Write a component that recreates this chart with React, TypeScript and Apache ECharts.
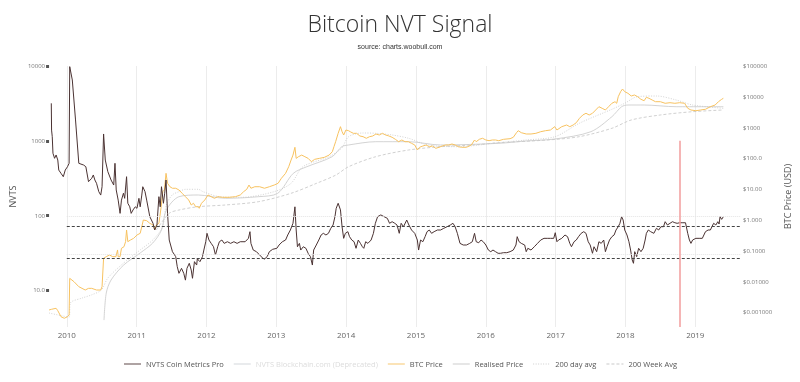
import React, { useEffect, useRef } from 'react';
import * as echarts from 'echarts';

// ---------- data (decimal year, value) ----------
const YEARS = [2010, 2011, 2012, 2013, 2014, 2015, 2016, 2017, 2018, 2019];
const NVTS_TICKS = [10, 100, 1000, 10000];
const NVTS_TICK_LABELS = ['10.0', '100', '1000', '10000'];
const PRICE_TICKS = [0.001, 0.01, 0.1, 1, 10, 100, 1000, 10000, 100000];
const PRICE_TICK_LABELS = ['$0.001000', '$0.01000', '$0.1000', '$1.000', '$10.00', '$100.0', '$1000', '$10000', '$100000'];

const NVTS_BANDS = [73, 27];
const NVTS_FAINT_LINES = [96.6, 30.4];
const MARKER_DATE = 2018.777;
const MARKER_TOP = 1000;

const NVTS_COIN_METRICS: [number, number][] = [
  [2009.778, 3170], [2009.782, 1390], [2009.792, 1134], [2009.802, 681], [2009.825, 583], [2009.847, 646], [2009.871, 553], [2009.885, 406], [2009.917, 367], [2009.95, 331], [2009.978, 406],
  [2010.01, 450], [2010.033, 500], [2010.042, 9800], [2010.079, 6500], [2010.125, 1900], [2010.172, 500], [2010.241, 474], [2010.273, 450], [2010.311, 284], [2010.357, 315], [2010.38, 349], [2010.402, 299], [2010.426, 270], [2010.458, 209], [2010.486, 188], [2010.505, 243], [2010.527, 1233], [2010.551, 553], [2010.588, 386], [2010.634, 299], [2010.672, 256], [2010.69, 500], [2010.708, 220], [2010.736, 161], [2010.763, 107], [2010.783, 161], [2010.811, 199], [2010.829, 170], [2010.856, 331], [2010.874, 146], [2010.902, 131], [2010.922, 107], [2010.949, 119], [2010.981, 131],
  [2011.005, 125], [2011.033, 170], [2011.051, 131], [2011.074, 188], [2011.088, 243], [2011.12, 209], [2011.144, 161], [2011.189, 96.6], [2011.235, 78.8], [2011.259, 64.1], [2011.291, 74.8], [2011.319, 179], [2011.338, 131], [2011.356, 243], [2011.384, 146], [2011.402, 199], [2011.421, 299], [2011.443, 107], [2011.467, 47.1], [2011.513, 32.9], [2011.56, 28.2], [2011.582, 20.7], [2011.606, 16.9], [2011.643, 19.7], [2011.675, 16.9], [2011.699, 13.7], [2011.721, 19.7], [2011.754, 23.0], [2011.782, 18.7], [2011.8, 14.5], [2011.828, 24.2], [2011.86, 21.8], [2011.87, 26.8], [2011.883, 25.5], [2011.907, 24.2], [2011.943, 28.2], [2011.963, 34.6], [2011.99, 44.7],
  [2012.008, 57.9], [2012.036, 47.1], [2012.068, 42.5], [2012.101, 38.3], [2012.129, 29.7], [2012.161, 38.3], [2012.185, 44.7], [2012.221, 47.1], [2012.254, 42.5], [2012.3, 44.7], [2012.346, 42.5], [2012.393, 44.7], [2012.439, 42.5], [2012.484, 44.7], [2012.554, 44.7], [2012.601, 49.6], [2012.623, 60.9], [2012.637, 42.5], [2012.67, 34.6], [2012.716, 32.9], [2012.762, 29.7], [2012.809, 26.8], [2012.831, 26.2], [2012.869, 28.2], [2012.901, 32.9], [2012.948, 35.4],
  [2013.008, 36.5], [2013.04, 40.4], [2013.087, 44.7], [2013.133, 47.1], [2013.164, 55.0], [2013.202, 64.1], [2013.239, 78.8], [2013.267, 131], [2013.285, 64.1], [2013.303, 38.3], [2013.331, 42.5], [2013.35, 34.6], [2013.387, 38.3], [2013.424, 36.5], [2013.456, 31.3], [2013.489, 28.2], [2013.517, 21.8], [2013.535, 34.6], [2013.573, 40.4], [2013.609, 47.1], [2013.642, 55.0], [2013.674, 57.9], [2013.711, 55.0], [2013.747, 57.9], [2013.781, 67.6], [2013.813, 74.8], [2013.84, 96.6], [2013.858, 125], [2013.886, 146], [2013.919, 119], [2013.942, 71.0], [2013.965, 49.6], [2013.989, 57.9],
  [2014.025, 60.9], [2014.049, 52.2], [2014.081, 47.1], [2014.114, 44.7], [2014.142, 36.5], [2014.174, 47.1], [2014.205, 42.5], [2014.233, 38.3], [2014.253, 36.5], [2014.28, 44.7], [2014.312, 42.5], [2014.358, 47.1], [2014.391, 57.9], [2014.419, 78.8], [2014.451, 96.6], [2014.497, 102], [2014.544, 96.6], [2014.59, 91.9], [2014.622, 78.8], [2014.659, 82.8], [2014.697, 78.8], [2014.729, 74.8], [2014.761, 57.9], [2014.788, 78.8], [2014.822, 71.0], [2014.868, 87.2], [2014.899, 74.8], [2014.937, 64.1], [2014.983, 57.9],
  [2015.02, 47.1], [2015.038, 34.6], [2015.066, 47.1], [2015.099, 44.7], [2015.131, 52.2], [2015.159, 60.9], [2015.191, 64.1], [2015.224, 57.9], [2015.26, 60.9], [2015.307, 64.1], [2015.353, 64.1], [2015.399, 67.6], [2015.446, 71.0], [2015.492, 74.8], [2015.53, 78.8], [2015.561, 71.0], [2015.593, 57.9], [2015.631, 42.5], [2015.677, 40.4], [2015.724, 40.4], [2015.77, 42.5], [2015.807, 44.7], [2015.839, 57.9], [2015.863, 44.7], [2015.899, 43.3], [2015.932, 47.1], [2015.964, 44.7],
  [2016.001, 40.4], [2016.037, 34.6], [2016.071, 32.9], [2016.103, 34.6], [2016.14, 32.9], [2016.176, 31.3], [2016.21, 31.3], [2016.255, 31.9], [2016.301, 31.9], [2016.348, 32.9], [2016.394, 34.6], [2016.432, 40.4], [2016.45, 52.2], [2016.477, 44.7], [2016.509, 42.5], [2016.557, 40.4], [2016.579, 32.9], [2016.602, 36.5], [2016.648, 34.6], [2016.695, 38.3], [2016.741, 42.5], [2016.787, 47.1], [2016.834, 49.6], [2016.88, 49.6], [2016.926, 49.6], [2016.973, 49.6], [2016.995, 59.0],
  [2017.019, 44.7], [2017.042, 47.1], [2017.088, 49.6], [2017.134, 55.0], [2017.171, 52.2], [2017.203, 42.5], [2017.227, 38.3], [2017.264, 44.7], [2017.296, 47.1], [2017.328, 52.2], [2017.366, 57.9], [2017.403, 60.9], [2017.435, 57.9], [2017.467, 44.7], [2017.495, 40.4], [2017.528, 31.3], [2017.55, 38.3], [2017.588, 32.9], [2017.62, 44.7], [2017.653, 42.5], [2017.689, 47.1], [2017.713, 32.9], [2017.736, 38.3], [2017.772, 47.1], [2017.806, 52.2], [2017.838, 55.0], [2017.865, 64.1], [2017.897, 71.0], [2017.921, 78.8], [2017.945, 96.6], [2017.967, 87.2], [2017.99, 64.1],
  [2018.022, 55.0], [2018.05, 44.7], [2018.074, 34.6], [2018.097, 25.5], [2018.115, 23.0], [2018.133, 32.9], [2018.161, 28.2], [2018.189, 36.5], [2018.222, 32.9], [2018.254, 36.5], [2018.282, 47.1], [2018.3, 57.9], [2018.328, 64.1], [2018.361, 60.9], [2018.407, 57.9], [2018.444, 67.6], [2018.476, 64.1], [2018.508, 71.0], [2018.545, 71.0], [2018.569, 82.8], [2018.601, 74.8], [2018.638, 78.8], [2018.674, 82.8], [2018.708, 80.2], [2018.74, 78.8], [2018.777, 80.2], [2018.823, 80.2], [2018.86, 80.2], [2018.892, 57.9], [2018.916, 47.1], [2018.938, 42.5], [2018.962, 47.1],
  [2019.008, 49.6], [2019.055, 49.6], [2019.101, 49.6], [2019.146, 60.9], [2019.184, 64.1], [2019.216, 64.1], [2019.263, 78.8], [2019.295, 74.8], [2019.323, 82.8], [2019.341, 77.1], [2019.355, 96.6], [2019.378, 89], [2019.402, 96.6],
];

const NVTS_BLOCKCHAIN: [number, number][] = [];

const BTC_PRICE: [number, number][] = [
  [2009.746, 0.00119], [2009.778, 0.00125], [2009.847, 0.00135], [2009.871, 0.00113], [2009.917, 0.00072], [2009.964, 0.00064], [2010.01, 0.00072], [2010.033, 0.00082],
  [2010.042, 0.0127], [2010.103, 0.0099], [2010.172, 0.0068], [2010.264, 0.0053], [2010.311, 0.006], [2010.357, 0.006], [2010.426, 0.0053], [2010.486, 0.0053], [2010.505, 0.0068], [2010.527, 0.0569], [2010.565, 0.0641], [2010.611, 0.0728], [2010.658, 0.0641], [2010.704, 0.0641], [2010.727, 0.106], [2010.736, 0.0641], [2010.763, 0.0641], [2010.783, 0.12], [2010.819, 0.135], [2010.842, 0.197], [2010.856, 0.472], [2010.874, 0.197], [2010.912, 0.223], [2010.958, 0.254],
  [2011.005, 0.324], [2011.051, 0.368], [2011.074, 0.604], [2011.096, 0.995], [2011.144, 0.946], [2011.189, 0.778], [2011.235, 0.686], [2011.259, 0.472], [2011.282, 0.686], [2011.319, 0.778], [2011.352, 2.69], [2011.374, 8.26], [2011.398, 9.4], [2011.421, 32.7], [2011.443, 15.5], [2011.477, 12.0], [2011.513, 10.7], [2011.56, 10.7], [2011.606, 9.4], [2011.652, 7.34], [2011.699, 5.69], [2011.745, 4.45], [2011.782, 3.06], [2011.814, 3.48], [2011.846, 2.69], [2011.883, 2.69], [2011.897, 2.39], [2011.929, 3.48], [2011.976, 4.45],
  [2012.022, 6.46], [2012.068, 5.69], [2012.115, 5.05], [2012.161, 5.69], [2012.23, 5.44], [2012.323, 5.44], [2012.415, 5.69], [2012.484, 6.46], [2012.532, 8.26], [2012.577, 9.89], [2012.609, 13.6], [2012.637, 10.7], [2012.693, 12.0], [2012.762, 12.0], [2012.831, 10.7], [2012.901, 12.0], [2012.97, 13.6],
  [2013.026, 15.5], [2013.073, 22.5], [2013.133, 32.7], [2013.178, 53.6], [2013.212, 88.5], [2013.239, 128], [2013.267, 229], [2013.285, 100], [2013.317, 113], [2013.364, 128], [2013.41, 113], [2013.456, 100], [2013.503, 78], [2013.549, 93], [2013.618, 100], [2013.688, 108], [2013.757, 128], [2013.803, 165], [2013.826, 239], [2013.85, 348], [2013.886, 651], [2013.919, 1069], [2013.942, 735], [2013.965, 574], [2013.997, 834],
  [2014.035, 792], [2014.058, 735], [2014.104, 651], [2014.15, 651], [2014.197, 533], [2014.243, 506], [2014.289, 449], [2014.336, 506], [2014.382, 533], [2014.427, 619], [2014.475, 574], [2014.52, 651], [2014.566, 574], [2014.613, 533], [2014.659, 483], [2014.705, 416], [2014.752, 348], [2014.798, 395], [2014.844, 348], [2014.891, 348], [2014.937, 308], [2014.983, 272],
  [2015.02, 187], [2015.052, 229], [2015.099, 252], [2015.145, 272], [2015.191, 239], [2015.238, 252], [2015.284, 212], [2015.33, 229], [2015.377, 252], [2015.423, 272], [2015.468, 272], [2015.516, 293], [2015.561, 272], [2015.607, 239], [2015.654, 229], [2015.724, 229], [2015.793, 272], [2015.839, 395], [2015.863, 348], [2015.908, 416], [2015.954, 449],
  [2016.001, 395], [2016.047, 375], [2016.093, 395], [2016.14, 395], [2016.186, 375], [2016.255, 416], [2016.348, 436], [2016.394, 483], [2016.44, 682], [2016.464, 792], [2016.509, 682], [2016.579, 619], [2016.648, 619], [2016.717, 651], [2016.787, 735], [2016.856, 792], [2016.926, 834], [2016.987, 1069],
  [2017.019, 834], [2017.088, 1069], [2017.158, 1213], [2017.203, 1069], [2017.251, 1213], [2017.296, 1441], [2017.342, 2000], [2017.389, 2563], [2017.435, 2912], [2017.481, 2563], [2017.528, 2912], [2017.574, 3726], [2017.62, 4764], [2017.667, 4227], [2017.713, 3726], [2017.759, 4764], [2017.806, 6148], [2017.851, 6930], [2017.875, 6148], [2017.897, 10070], [2017.931, 14630], [2017.958, 17900], [2017.99, 14630],
  [2018.036, 12980], [2018.083, 10610], [2018.129, 11430], [2018.175, 10070], [2018.222, 8280], [2018.268, 7460], [2018.3, 9620], [2018.337, 8930], [2018.383, 7870], [2018.43, 6930], [2018.5, 6930], [2018.569, 6148], [2018.638, 6430], [2018.708, 6148], [2018.777, 6430], [2018.847, 6148], [2018.892, 4227], [2018.938, 3726],
  [2019.008, 3530], [2019.077, 3726], [2019.146, 3930], [2019.216, 4764], [2019.285, 5410], [2019.332, 6930], [2019.378, 8280], [2019.402, 8930],
];

const REALISED_PRICE: [number, number][] = [
  [2010.533, 0.00056], [2010.565, 0.0042], [2010.634, 0.0112], [2010.815, 0.0344], [2011.051, 0.0845], [2011.231, 0.178], [2011.356, 0.472], [2011.425, 2.1], [2011.606, 5.69], [2011.883, 6.46],
  [2012.272, 5.05], [2012.744, 5.69], [2013.021, 7.34], [2013.244, 32.7], [2013.438, 53.6], [2013.799, 113], [2013.938, 239], [2014.035, 272], [2014.423, 348], [2014.895, 348], [2015.353, 272],
  [2016.186, 308], [2016.575, 366], [2016.991, 426], [2017.505, 735], [2017.806, 2254], [2017.945, 4764], [2018.036, 5410], [2018.268, 5410], [2018.726, 4764], [2019.402, 4764],
];

const AVG_200_DAY: [number, number][] = [
  [2009.746, 0.00095], [2009.94, 0.00076], [2010.033, 0.0007], [2010.051, 0.002], [2010.218, 0.0029], [2010.357, 0.0037], [2010.495, 0.0053], [2010.588, 0.013], [2010.815, 0.04], [2011.051, 0.106], [2011.231, 0.223], [2011.37, 0.59], [2011.425, 3.06], [2011.509, 6.46], [2011.606, 8.26], [2011.699, 9.89], [2011.883, 9.89], [2011.953, 8.26],
  [2012.189, 5.69], [2012.508, 5.44], [2012.966, 8.26], [2013.212, 15.5], [2013.382, 53.6], [2013.757, 113], [2013.938, 217], [2014.035, 506], [2014.243, 667], [2014.423, 651], [2014.659, 574], [2014.895, 449], [2015.173, 272], [2015.589, 239],
  [2016.186, 323], [2016.575, 395], [2016.991, 506], [2017.338, 1377], [2017.806, 3930], [2017.99, 6148], [2018.171, 10070], [2018.448, 10610], [2018.726, 7870], [2018.962, 5410], [2019.402, 4227],
];

const AVG_200_WEEK: [number, number][] = [
  [2011.282, 0.472], [2011.467, 1.64], [2011.606, 2.1], [2011.883, 2.69], [2012.272, 3.06], [2012.744, 3.92], [2013.212, 7.34], [2013.577, 15.5], [2013.854, 28.8], [2014.035, 53.6], [2014.423, 113], [2014.895, 187], [2015.353, 239], [2015.811, 272],
  [2016.186, 323], [2016.88, 395], [2017.338, 506], [2017.806, 948], [2018.083, 1762], [2018.5, 2563], [2018.962, 3281], [2019.402, 3726],
];

// ---------- layout constants ----------
const X_MIN = 2009.746;
const X_MAX = 2019.656;
const NVTS_LOG_MIN = 0.51;
const NVTS_LOG_MAX = 4;
const PRICE_LOG_MIN = -3.477;
const PRICE_LOG_MAX = 5;

const toLog = (d: [number, number][]) => d.map(([x, v]) => [x, Math.log10(v)]);
const labelFor = (ticks: number[], labels: string[]) => (v: number) => {
  const i = ticks.findIndex((t) => Math.abs(Math.log10(t) - v) < 1e-6);
  return i >= 0 ? labels[i] : '';
};

const FONT = "'Open Sans', 'Noto Sans', sans-serif";

const C_NVTS = '#4b3333';
const C_PRICE = '#f7c260';
const C_GREY = '#c8c8c8';

export default function App() {
  const ref = useRef<HTMLDivElement>(null);
  useEffect(() => {
    const chart = echarts.init(ref.current!, null, { renderer: 'svg' });
    const nvtsLogTicks = NVTS_TICKS.map((t) => Math.log10(t));
    const priceLogTicks = PRICE_TICKS.map((t) => Math.log10(t));

    const hLine = (v: number) => [
      { coord: [2010, Math.log10(v)] },
      { coord: [X_MAX, Math.log10(v)] },
    ];
    const noSymbol = { opacity: 0 };

    const option: any = {
      animation: false,
      textStyle: { fontFamily: FONT },
      title: {
        text: 'Bitcoin NVT Signal',
        subtext: 'source: charts.woobull.com',
        left: 'center',
        top: 6,
        itemGap: 9,
        textStyle: { fontFamily: FONT, fontWeight: 300, fontSize: 23, color: '#333' },
        subtextStyle: { fontFamily: "'Liberation Sans', Arial, sans-serif", fontSize: 7, color: '#333' },
      },
      legend: {
        top: 355,
        left: 'center',
        itemWidth: 17,
        itemHeight: 10,
        itemGap: 9,
        inactiveColor: '#dcdcdc',
        textStyle: { fontFamily: FONT, fontSize: 7.5, color: '#555' },
        lineStyle: { opacity: 0.45 },
        selected: { 'NVTS Blockchain.com (Deprecated)': false },
        data: [
          { name: 'NVTS Coin Metrics Pro', itemStyle: noSymbol },
          { name: 'NVTS Blockchain.com (Deprecated)', itemStyle: noSymbol },
          { name: 'BTC Price', itemStyle: noSymbol },
          { name: 'Realised Price', itemStyle: noSymbol },
          { name: '200 day avg', itemStyle: noSymbol },
          { name: '200 Week Avg', itemStyle: noSymbol },
        ],
      },
      grid: { left: 46, right: 40, top: 66, bottom: 55, containLabel: false },
      xAxis: {
        type: 'value',
        min: X_MIN,
        max: X_MAX,
        axisLine: { show: false },
        axisTick: { show: false, customValues: YEARS },
        axisLabel: {
          customValues: YEARS,
          formatter: (v: number) => String(Math.round(v)),
          fontSize: 8,
          color: '#666',
          margin: 3,
        },
        splitLine: { show: true, lineStyle: { color: '#ececec', width: 1 } },
      },
      yAxis: [
        {
          type: 'value',
          min: NVTS_LOG_MIN,
          max: NVTS_LOG_MAX,
          position: 'left',
          name: 'NVTS',
          nameLocation: 'middle',
          nameGap: 24,
          nameRotate: 90,
          nameTextStyle: { fontSize: 9, color: '#555', fontFamily: FONT },
          axisLine: { show: false },
          axisTick: { show: true, customValues: nvtsLogTicks, length: 3, lineStyle: { color: '#555', width: 3 } },
          axisLabel: {
            customValues: nvtsLogTicks,
            formatter: labelFor(NVTS_TICKS, NVTS_TICK_LABELS),
            fontSize: 6,
            color: '#777',
            margin: 4,
          },
          splitLine: { show: false },
        },
        {
          type: 'value',
          min: PRICE_LOG_MIN,
          max: PRICE_LOG_MAX,
          position: 'right',
          name: 'BTC Price (USD)',
          nameLocation: 'middle',
          nameGap: 27,
          nameRotate: 90,
          nameTextStyle: { fontSize: 9, color: '#555', fontFamily: FONT },
          axisLine: { show: false },
          axisTick: { show: false, customValues: priceLogTicks },
          axisLabel: {
            customValues: priceLogTicks,
            formatter: labelFor(PRICE_TICKS, PRICE_TICK_LABELS),
            fontSize: 6,
            color: '#777',
            margin: 2,
          },
          splitLine: { show: false },
        },
      ],
      series: [
        {
          name: '200 Week Avg',
          type: 'line',
          yAxisIndex: 1,
          data: toLog(AVG_200_WEEK),
          symbol: 'none',
          smooth: 0.3,
          itemStyle: { color: C_GREY },
          lineStyle: { color: '#c4c4c4', width: 0.8, type: [3, 2] },
          emphasis: { disabled: true },
        },
        {
          name: '200 day avg',
          type: 'line',
          yAxisIndex: 1,
          data: toLog(AVG_200_DAY),
          symbol: 'none',
          smooth: 0.3,
          itemStyle: { color: C_GREY },
          lineStyle: { color: C_GREY, width: 0.8, type: [1, 1.5] },
          emphasis: { disabled: true },
        },
        {
          name: 'Realised Price',
          type: 'line',
          yAxisIndex: 1,
          data: toLog(REALISED_PRICE),
          symbol: 'none',
          smooth: 0.3,
          itemStyle: { color: C_GREY },
          lineStyle: { color: C_GREY, width: 0.8 },
          emphasis: { disabled: true },
        },
        {
          name: 'BTC Price',
          type: 'line',
          yAxisIndex: 1,
          data: toLog(BTC_PRICE),
          symbol: 'none',
          itemStyle: { color: C_PRICE },
          lineStyle: { color: C_PRICE, width: 1 },
          emphasis: { disabled: true },
        },
        {
          name: 'NVTS Blockchain.com (Deprecated)',
          type: 'line',
          yAxisIndex: 0,
          data: toLog(NVTS_BLOCKCHAIN),
          symbol: 'none',
          itemStyle: { color: '#bbbbbb' },
          lineStyle: { color: '#bbbbbb', width: 1, type: 'dotted' },
          emphasis: { disabled: true },
        },
        {
          name: 'NVTS Coin Metrics Pro',
          type: 'line',
          yAxisIndex: 0,
          data: toLog(NVTS_COIN_METRICS),
          symbol: 'none',
          itemStyle: { color: C_NVTS },
          lineStyle: { color: C_NVTS, width: 1 },
          emphasis: { disabled: true },
          markLine: {
            silent: true,
            symbol: 'none',
            label: { show: false },
            animation: false,
            data: [
              ...NVTS_FAINT_LINES.map((v) => hLine(v).map((p) => ({ ...p, lineStyle: { color: '#e4e4e4', type: 'dotted', width: 1 } }))),
              ...NVTS_BANDS.map((v) => hLine(v).map((p) => ({ ...p, lineStyle: { color: '#444', type: [3, 2], width: 1 } }))),
              [
                { coord: [MARKER_DATE, Math.log10(MARKER_TOP)], lineStyle: { color: '#f29c9c', type: 'solid', width: 1.5 } },
                { coord: [MARKER_DATE, NVTS_LOG_MIN] },
              ],
            ],
          },
        },
      ],
    };
    chart.setOption(option);
    return () => chart.dispose();
  }, []);
  return <div ref={ref} style={{ position: 'fixed', left: 0, top: 0, width: 800, height: 382 }} />;
}
